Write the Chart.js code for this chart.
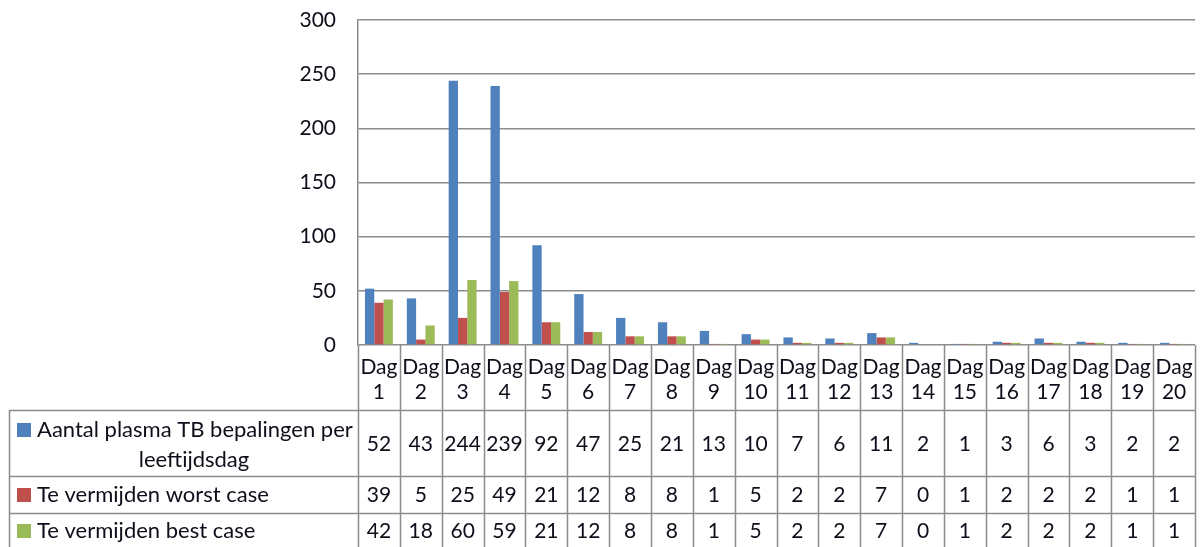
<!DOCTYPE html>
<html>
<head>
<meta charset="utf-8">
<style>
  html, body { margin: 0; padding: 0; background: #ffffff; }
  #wrap { width: 1201px; height: 547px; position: relative; }
</style>
<script src="https://cdn.jsdelivr.net/npm/chart.js@4/dist/chart.umd.min.js"></script>
</head>
<body>
<div id="wrap"><canvas id="c"></canvas></div>
<script>
// Categories (leeftijdsdagen) and the three series shown in the data table
const dagen = ['Dag 1','Dag 2','Dag 3','Dag 4','Dag 5','Dag 6','Dag 7','Dag 8','Dag 9','Dag 10',
               'Dag 11','Dag 12','Dag 13','Dag 14','Dag 15','Dag 16','Dag 17','Dag 18','Dag 19','Dag 20'];
const aantalPlasmaTB = [52, 43, 244, 239, 92, 47, 25, 21, 13, 10, 7, 6, 11, 2, 1, 3, 6, 3, 2, 2];
const worstCase      = [39, 5, 25, 49, 21, 12, 8, 8, 1, 5, 2, 2, 7, 0, 1, 2, 2, 2, 1, 1];
const bestCase       = [42, 18, 60, 59, 21, 12, 8, 8, 1, 5, 2, 2, 7, 0, 1, 2, 2, 2, 1, 1];
const yTicks = [0, 50, 100, 150, 200, 250, 300];

const seriesNames = [
  ['Aantal plasma TB bepalingen per', 'leeftijdsdag'],
  ['Te vermijden worst case'],
  ['Te vermijden best case']
];
const colors = ['#4F81BD', '#C0504D', '#9BBB59'];
const lineColor = '#8c8c8c';
const textColor = '#0e0e1a';
const FONT = '21px Lato';
const LEGEND_FONT = '22px Lato';

// Data table drawn underneath the plot, aligned to the x scale
const dataTable = {
  id: 'dataTable',
  afterDraw(chart) {
    const ctx = chart.ctx;
    const x = chart.scales.x;
    const area = chart.chartArea;
    const n = dagen.length;
    const colW = (area.right - area.left) / n;
    const top = area.bottom;
    const rows = [top, top + 65, top + 131, top + 168, top + 203];
    const legendLeft = 9;
    const series = [aantalPlasmaTB, worstCase, bestCase];

    ctx.save();
    ctx.strokeStyle = lineColor;
    ctx.lineWidth = 1.5;
    ctx.beginPath();
    // vertical column lines
    for (let i = 0; i <= n; i++) {
      const xx = Math.round(area.left + i * colW) + 0.5;
      ctx.moveTo(xx, rows[0]);
      ctx.lineTo(xx, rows[4]);
    }
    // legend column left edge
    ctx.moveTo(legendLeft + 0.5, rows[1]);
    ctx.lineTo(legendLeft + 0.5, rows[4]);
    // horizontal row lines
    for (let r = 1; r <= 3; r++) {
      ctx.moveTo(legendLeft, rows[r] + 0.5);
      ctx.lineTo(area.right, rows[r] + 0.5);
    }
    ctx.stroke();

    ctx.fillStyle = textColor;
    ctx.font = FONT;
    ctx.textAlign = 'center';
    ctx.textBaseline = 'middle';

    // header: category labels in two lines
    dagen.forEach((d, i) => {
      const cx = x.getPixelForValue(i);
      const parts = d.split(' ');
      ctx.fillText(parts[0], cx, top + 22);
      ctx.fillText(parts[1], cx, top + 47);
    });

    // values
    const rowCenters = [top + 99, top + 150, top + 186];
    series.forEach((vals, s) => {
      vals.forEach((v, i) => {
        ctx.fillText(String(v), x.getPixelForValue(i), rowCenters[s]);
      });
    });

    // legend cells
    ctx.font = LEGEND_FONT;
    const legendY = [[top + 85, top + 115], [top + 150], [top + 186]];
    ctx.textAlign = 'left';
    seriesNames.forEach((lines, s) => {
      const y0 = legendY[s][0];
      ctx.fillStyle = colors[s];
      ctx.fillRect(17, y0 - 7, 14, 14);
      ctx.fillStyle = textColor;
      ctx.fillText(lines[0], 37, y0);
      if (lines[1]) {
        ctx.textAlign = 'center';
        ctx.fillText(lines[1], 194, legendY[s][1]);
        ctx.textAlign = 'left';
      }
    });
    ctx.restore();
  }
};

new Chart(document.getElementById('c'), {
  type: 'bar',
  data: {
    labels: dagen,
    datasets: [
      { label: seriesNames[0].join(' '), data: aantalPlasmaTB, backgroundColor: colors[0] },
      { label: seriesNames[1][0], data: worstCase, backgroundColor: colors[1] },
      { label: seriesNames[2][0], data: bestCase, backgroundColor: colors[2] }
    ]
  },
  options: {
    responsive: true,
    maintainAspectRatio: false,
    animation: false,
    layout: { padding: { top: 20, right: 6, bottom: 202, left: 0 } },
    datasets: { bar: { categoryPercentage: 0.667, barPercentage: 1.0, borderWidth: 0 } },
    plugins: { legend: { display: false }, tooltip: { enabled: false } },
    scales: {
      x: { display: false },
      y: {
        min: 0, max: 300,
        afterBuildTicks: (s) => { s.ticks = yTicks.map(v => ({ value: v })); },
        afterFit: (s) => { s.width = 358; s.paddingTop = 0; s.paddingBottom = 0; },
        ticks: { padding: 22, color: textColor, font: { family: 'Lato', size: 21 } },
        grid: { color: lineColor, lineWidth: 1.5, drawTicks: false },
        border: { display: true, color: lineColor, width: 1.5 }
      }
    }
  },
  plugins: [dataTable]
});
</script>
</body>
</html>
